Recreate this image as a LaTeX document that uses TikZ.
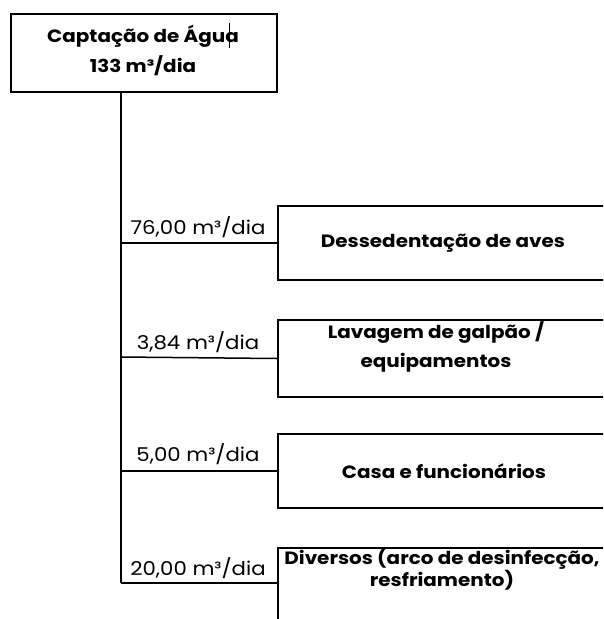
\documentclass[tikz,border=0pt]{standalone}
\usepackage{fontspec}
\setmainfont{Poppins}
\newfontfamily\gothic[FakeStretch=1.12]{Poppins}
\begin{document}
\begin{tikzpicture}[x=1pt,y=-1pt,
  boxst/.style={draw=black,line width=2pt,inner sep=0pt,anchor=north west},
  conn/.style={draw=black,line width=1.5pt},
  lbl/.style={font=\gothic\fontsize{19}{22}\selectfont,text=black,inner sep=0pt},
  btxt/.style={font=\gothic\bfseries\fontsize{17.8}{29}\selectfont,text=black,align=center,inner sep=0pt}]
\useasboundingbox (0,0) rectangle (603,619);
\clip (0,0) rectangle (603,619);
% top box
\node[boxst,minimum width=266pt,minimum height=78pt] (top) at (10,13) {};
\node[btxt,font=\gothic\bfseries\fontsize{17.8}{30}\selectfont] (toptxt) at (143,50) {Captação de Água\\133 m³/dia};
% text cursor mark
\coordinate (c0) at (229,23);
\coordinate (c1) at (229,48);
\draw[black,line width=1pt] (c0) -- (c1);
% trunk
\coordinate (t0) at (121,91);
\coordinate (j1) at (121,243);
\coordinate (j2) at (121,357);
\coordinate (j3) at (121,471);
\coordinate (j4) at (121,583);
\draw[conn] (t0) -- (j4);
% boxes
\node[boxst,minimum width=340pt,minimum height=74pt] (b1) at (277,205) {};
\node[boxst,minimum width=340pt,minimum height=77pt] (b2) at (277,319) {};
\node[boxst,minimum width=340pt,minimum height=74pt] (b3) at (277,433) {};
\node[boxst,minimum width=340pt,minimum height=90pt] (b4) at (277,547) {};
\node[btxt] (b1t) at (443,243) {Dessedentação de aves};
\node[btxt] (b2t) at (436,347) {Lavagem de galpão /\\equipamentos};
\node[btxt] (b3t) at (444,471) {Casa e funcionários};
\node[btxt,font=\gothic\bfseries\fontsize{17.8}{21}\selectfont] (b4t) at (442,569) {Diversos (arco de desinfecção,\\resfriamento)};
% branches
\draw[conn] (j1) -- (b1.west);
\draw[conn] (j2) -- (b2.west);
\draw[conn] (j3) -- (b3.west);
\draw[conn] (j4) -- (b4.north west |- j4);
% labels
\node[lbl] (l1) at (198,227) {76,00 m³/dia};
\node[lbl] (l2) at (198,342) {3,84 m³/dia};
\node[lbl] (l3) at (198,454) {5,00 m³/dia};
\node[lbl] (l4) at (198,568) {20,00 m³/dia};
\end{tikzpicture}
\end{document}
